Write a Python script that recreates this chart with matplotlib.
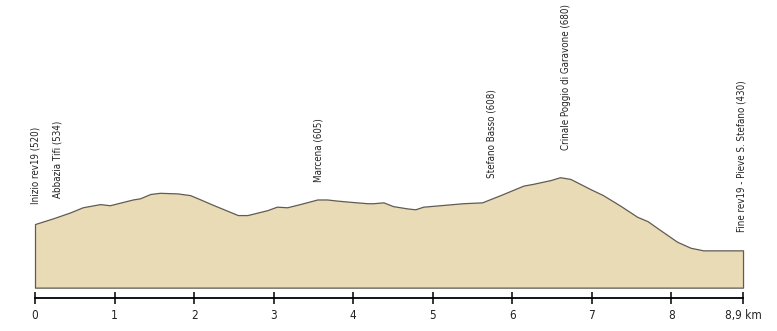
import numpy as np
import matplotlib.pyplot as plt

# profile data (km, metres)
km = [0.00, 0.23, 0.44, 0.60, 0.82, 0.94, 1.07, 1.23, 1.32, 1.45, 1.57, 1.79,
      1.95, 2.08, 2.24, 2.55, 2.67, 2.92, 3.04, 3.17, 3.33, 3.55, 3.67, 3.80,
      3.96, 4.18, 4.25, 4.38, 4.50, 4.68, 4.78, 4.88, 5.13, 5.38, 5.62, 5.85,
      6.14, 6.26, 6.48, 6.60, 6.73, 6.98, 7.14, 7.36, 7.57, 7.70, 7.86, 8.07,
      8.24, 8.40, 8.90]
elev = [520, 540, 560, 578, 589, 585, 594, 605, 609, 624, 628, 626,
        620, 605, 586, 551, 551, 568, 580, 578, 589, 605, 605, 601,
        597, 592, 592, 595, 582, 574, 571, 580, 586, 592, 595, 620,
        653, 659, 672, 682, 676, 641, 620, 583, 545, 530, 499, 459,
        438, 429, 429]

places = ["Inizio rev19 (520)", "Abbazia Tifi (534)", "Marcena (605)",
          "Stefano Basso (608)", "Crinale Poggio di Garavone (680)",
          "Fine rev19 - Pieve S. Stefano (430)"]
place_km = [0.01, 0.28, 3.56, 5.74, 6.67, 8.88]

tick_km = [0, 1, 2, 3, 4, 5, 6, 7, 8, 8.9]
tick_labels = ["0", "1", "2", "3", "4", "5", "6", "7", "8", "8,9 km"]

# layout
label_base = [589, 610, 665, 679, 775, 492]
base = 300

fig = plt.figure(figsize=(7.77, 3.31), dpi=100)
ax = fig.add_axes([0, 0, 1, 1])
ax.set_xlim(-0.44, 9.327)
ax.set_ylim(150, 1295)

ax.fill_between(km, elev, base, facecolor='#e9dbb6', edgecolor='#605c55', linewidth=0.9)

for name, k, b in zip(places, place_km, label_base):
    ax.text(k, b, name, rotation=90, ha='center', va='bottom',
            fontsize=7, family='DejaVu Sans', fontstretch='condensed',
            color='#222222')

for s in ['top', 'left', 'right']:
    ax.spines[s].set_visible(False)
ax.spines['bottom'].set_position(('data', 264))
ax.spines['bottom'].set_bounds(0, 8.9)
ax.spines['bottom'].set_linewidth(1.3)
ax.set_yticks([])
ax.set_xticks(tick_km)
ax.set_xticklabels(tick_labels, family='DejaVu Sans', fontstretch='condensed',
                   fontsize=8.5, color='#222222')
ax.tick_params(axis='x', direction='inout', length=8, width=1.1, pad=4)

fig.savefig('out.png', dpi=100)
